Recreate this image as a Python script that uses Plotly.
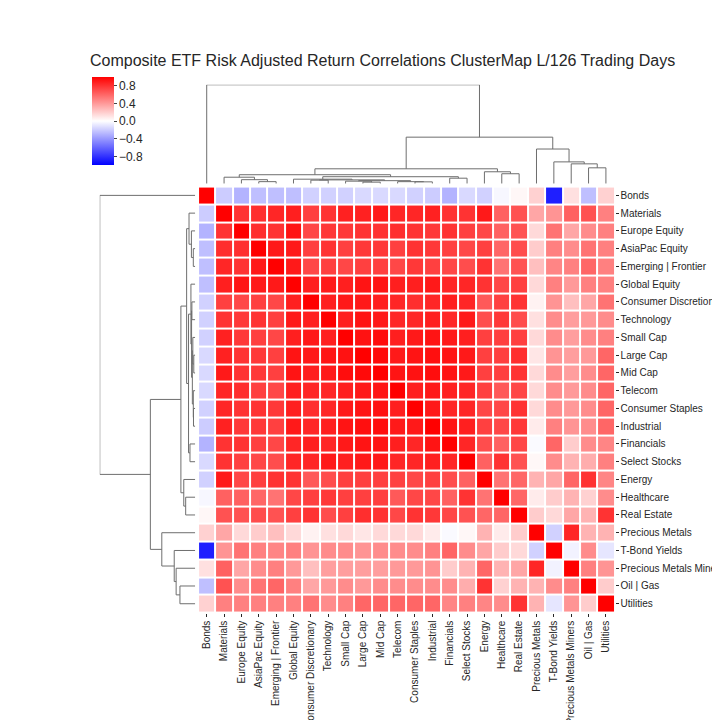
import numpy as np
import plotly.graph_objects as go

labels = ["Bonds", "Materials", "Europe Equity", "AsiaPac Equity", "Emerging | Frontier",
          "Global Equity", "Consumer Discretionary", "Technology", "Small Cap", "Large Cap",
          "Mid Cap", "Telecom", "Consumer Staples", "Industrial", "Financials", "Select Stocks",
          "Energy", "Healthcare", "Real Estate", "Precious Metals", "T-Bond Yields",
          "Precious Metals Miners", "Oil | Gas", "Utilities"]

# upper-triangle rows: correlations of row i with columns i+1..23
upper = [
    [-0.2, -0.3, -0.25, -0.25, -0.25, -0.18, -0.18, -0.18, -0.15, -0.15, -0.15, -0.18, -0.2, -0.3, -0.15, -0.18, -0.03, 0.03, 0.18, -0.88, 0.12, -0.25, 0.18],
    [0.8, 0.82, 0.85, 0.88, 0.75, 0.8, 0.87, 0.87, 0.9, 0.85, 0.85, 0.87, 0.8, 0.8, 0.9, 0.62, 0.68, 0.35, 0.42, 0.62, 0.68, 0.5],
    [0.82, 0.8, 0.92, 0.72, 0.78, 0.78, 0.8, 0.8, 0.82, 0.8, 0.78, 0.8, 0.75, 0.72, 0.62, 0.68, 0.15, 0.55, 0.35, 0.45, 0.5],
    [0.9, 0.9, 0.75, 0.8, 0.75, 0.78, 0.78, 0.75, 0.8, 0.78, 0.75, 0.72, 0.75, 0.6, 0.7, 0.2, 0.5, 0.45, 0.55, 0.5],
    [0.9, 0.72, 0.75, 0.72, 0.75, 0.75, 0.72, 0.78, 0.75, 0.72, 0.7, 0.8, 0.55, 0.68, 0.25, 0.48, 0.5, 0.6, 0.5],
    [0.88, 0.9, 0.88, 0.92, 0.92, 0.88, 0.88, 0.9, 0.85, 0.85, 0.8, 0.72, 0.75, 0.15, 0.5, 0.4, 0.5, 0.5],
    [0.88, 0.9, 0.9, 0.88, 0.85, 0.82, 0.85, 0.88, 0.85, 0.65, 0.75, 0.8, 0.05, 0.42, 0.25, 0.35, 0.55],
    [0.88, 0.92, 0.9, 0.85, 0.85, 0.88, 0.85, 0.9, 0.7, 0.78, 0.7, 0.12, 0.45, 0.38, 0.4, 0.45],
    [0.93, 0.95, 0.88, 0.9, 0.92, 0.9, 0.88, 0.75, 0.75, 0.75, 0.15, 0.45, 0.38, 0.45, 0.5],
    [0.96, 0.9, 0.92, 0.94, 0.92, 0.9, 0.75, 0.75, 0.82, 0.1, 0.42, 0.38, 0.4, 0.6],
    [0.92, 0.93, 0.95, 0.92, 0.9, 0.75, 0.75, 0.8, 0.15, 0.45, 0.38, 0.45, 0.6],
    [0.88, 0.9, 0.88, 0.85, 0.75, 0.65, 0.72, 0.15, 0.45, 0.4, 0.45, 0.6],
    [0.9, 0.85, 0.85, 0.72, 0.72, 0.8, 0.15, 0.45, 0.4, 0.45, 0.6],
    [0.92, 0.88, 0.75, 0.72, 0.78, 0.08, 0.5, 0.42, 0.45, 0.6],
    [0.85, 0.7, 0.62, 0.72, -0.02, 0.6, 0.2, 0.45, 0.48],
    [0.62, 0.8, 0.68, 0.03, 0.45, 0.3, 0.32, 0.5],
    [0.55, 0.6, 0.3, 0.35, 0.6, 0.8, 0.48],
    [0.6, 0.08, 0.2, 0.3, 0.18, 0.45],
    [0.2, 0.15, 0.35, 0.3, 0.8],
    [-0.18, 0.85, 0.3, 0.3],
    [-0.05, 0.45, -0.1],
    [0.5, 0.42],
    [0.2],
]

# dendrogram tree: (left, right, merge height), leaves are label indices
tree = (0, ((((1, (2, (3, 4, 0.02), 0.04), 0.065),
              ((5, ((6, 7, 0.035), ((8, (9, 10, 0.015), 0.025), (11, (12, 13, 0.018), 0.02), 0.03), 0.038), 0.045),
               (14, 15, 0.055), 0.07), 0.09),
             (16, (17, 18, 0.1), 0.12), 0.15),
            (19, (20, (21, (22, 23, 0.16), 0.2), 0.22), 0.35), 0.47), 1.0)

n = len(labels)
Z = np.eye(n)
for i, row in enumerate(upper):
    for k, v in enumerate(row):
        j = i + 1 + k
        Z[i, j] = Z[j, i] = v

segs = []
def walk(node):
    if isinstance(node, int):
        return float(node), 0.0
    l, r, h = node
    cl, hl = walk(l)
    cr, hr = walk(r)
    segs.append(([cl, cl, cr, cr], [hl, h, h, hr]))
    return (cl + cr) / 2, h
walk(tree)

fig = go.Figure()
fig.add_trace(go.Heatmap(
    z=Z, x=list(range(n)), y=list(range(n)), zmin=-1, zmax=1,
    colorscale=[[0, "rgb(0,0,255)"], [0.5, "rgb(255,255,255)"], [1, "rgb(255,0,0)"]],
    xgap=2, ygap=2,
    colorbar=dict(x=90/720, xanchor="left", y=1 - 72/720, yanchor="top", len=88, lenmode="pixels",
                  thickness=22, xpad=0, ypad=0, tickvals=[0.8, 0.4, 0, -0.4, -0.8],
                  ticktext=["0.8", "0.4", "0.0", "\u22120.4", "\u22120.8"],
                  ticks="outside", ticklen=3, outlinewidth=0,
                  tickfont=dict(size=12, family="Liberation Sans", color="#262626")),
    hoverinfo="skip"))

cx, cy, rx, ry = [], [], [], []
for xs, hs in segs:
    cx += xs + [None]; cy += hs + [None]
    rx += hs + [None]; ry += xs + [None]
fig.add_trace(go.Scatter(x=cx, y=cy, mode="lines", line=dict(color="#6e6e6e", width=1),
                         xaxis="x2", yaxis="y2", hoverinfo="skip", showlegend=False))
fig.add_trace(go.Scatter(x=rx, y=ry, mode="lines", line=dict(color="#6e6e6e", width=1),
                         xaxis="x3", yaxis="y3", hoverinfo="skip", showlegend=False))

hx = [203/720, 648/720]
hy = [1 - 630/720, 1 - 186/720]
tf = dict(size=10, family="Liberation Sans", color="#262626")
fig.update_layout(
    width=720, height=720, margin=dict(l=0, r=0, t=0, b=0),
    paper_bgcolor="white", plot_bgcolor="white", showlegend=False,
    title=dict(text="Composite ETF Risk Adjusted Return Correlations ClusterMap L/126 Trading Days",
               x=82/720, xanchor="left", y=1 - 52/720, yanchor="middle", pad=dict(l=0, r=0, t=0, b=0),
               font=dict(size=16, family="Liberation Sans", color="#262626")),
    xaxis=dict(domain=hx, range=[-0.5, n - 0.5], tickvals=list(range(n)), ticktext=labels,
               tickangle=-90, ticks="outside", ticklen=3, tickcolor="#262626", tickfont=tf,
               showgrid=False, zeroline=False, showline=False),
    yaxis=dict(domain=hy, range=[n - 0.5, -0.5], tickvals=list(range(n)), ticktext=labels,
               side="right", ticks="outside", ticklen=3, tickcolor="#262626", tickfont=tf,
               showgrid=False, zeroline=False, showline=False, anchor="x"),
    xaxis2=dict(domain=hx, range=[-0.5, n - 0.5], visible=False, anchor="y2"),
    yaxis2=dict(domain=[1 - 183/720, 1 - 80/720], range=[0, 1.0], visible=False, anchor="x2"),
    xaxis3=dict(domain=[98/720, 200/720], range=[1.0, 0], visible=False, anchor="y3"),
    yaxis3=dict(domain=hy, range=[n - 0.5, -0.5], visible=False, anchor="x3"),
)
fig.write_html("out.html")
